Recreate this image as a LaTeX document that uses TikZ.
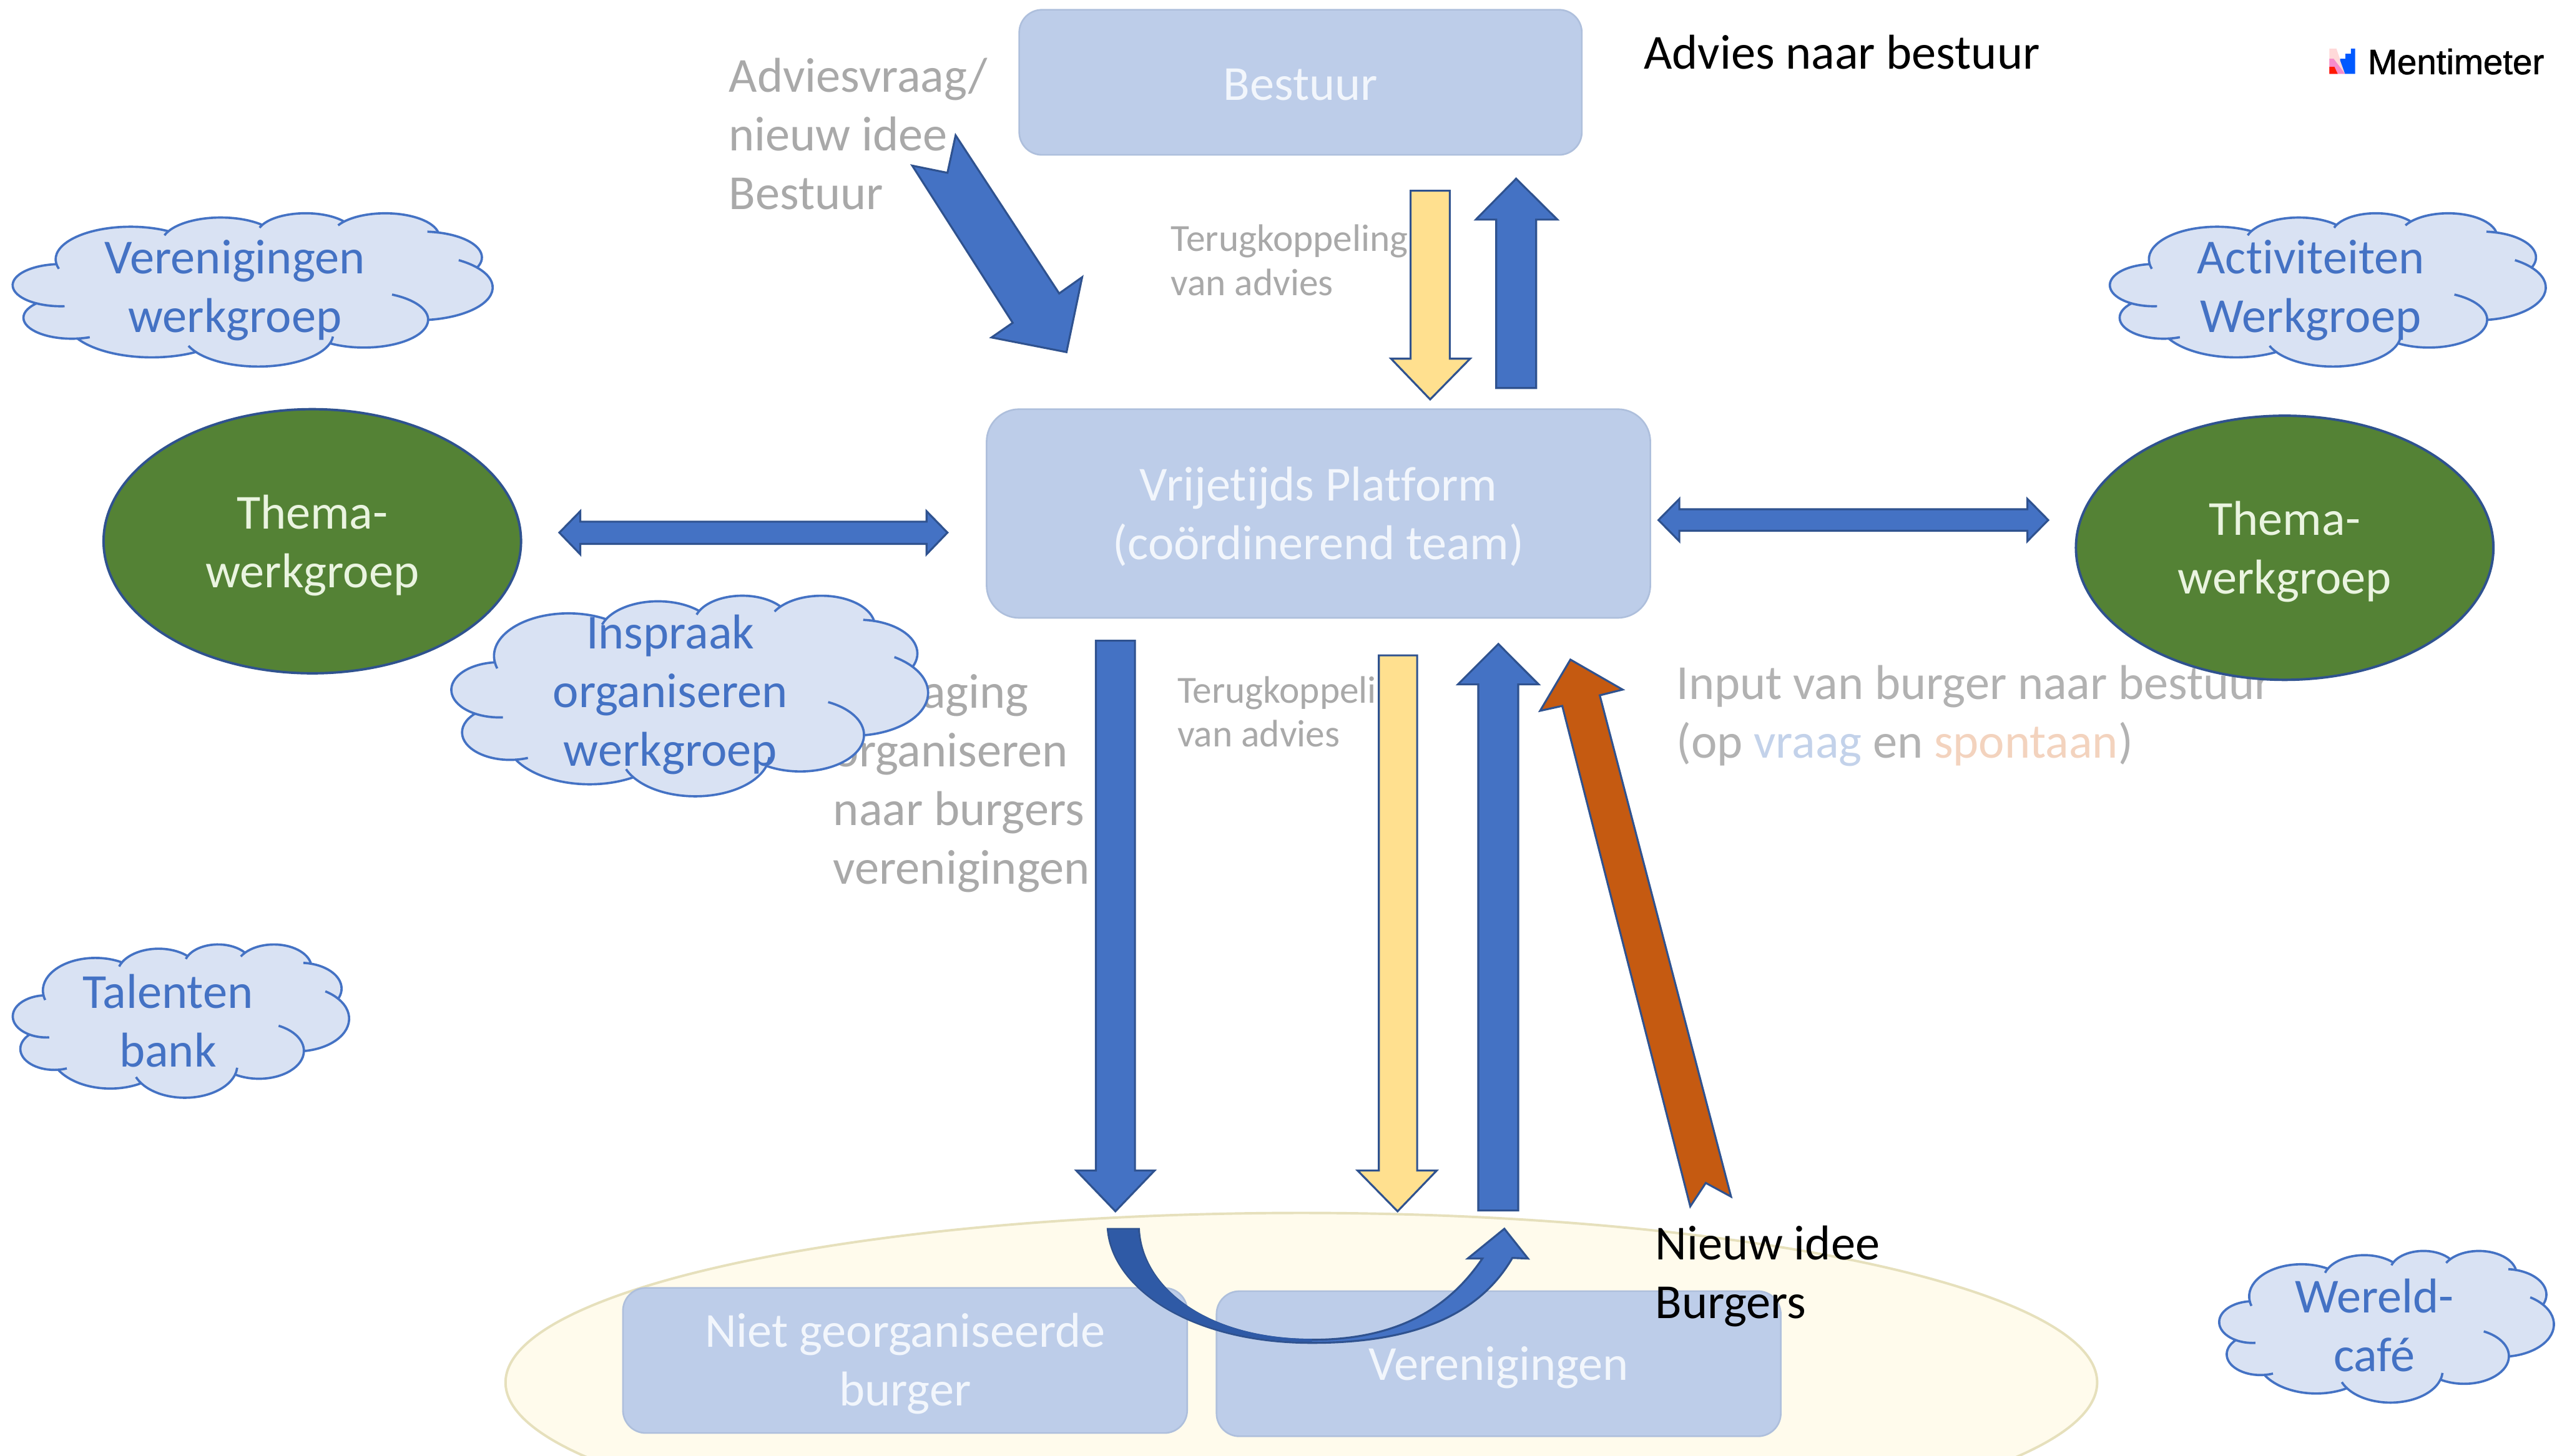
\documentclass[tikz,border=0pt]{standalone}
\usepackage{fontspec}
\setmainfont[Ligatures=NoCommon]{Carlito}
\newfontfamily\mentifont[FakeBold=1.2]{Liberation Sans}
\definecolor{boxfill}{HTML}{BDCDE9}
\definecolor{boxline}{HTML}{AEBFDC}
\definecolor{boxtext}{HTML}{F2F6FC}
\definecolor{bluefill}{HTML}{4472C4}
\definecolor{bluedark}{HTML}{2F5AA6}
\definecolor{blueline}{HTML}{2F528F}
\definecolor{yelfill}{HTML}{FFE08F}
\definecolor{orfill}{HTML}{C55A11}
\definecolor{cloudfill}{HTML}{D9E2F3}
\definecolor{greenfill}{HTML}{548235}
\definecolor{greentext}{HTML}{EAF4E0}
\definecolor{creamfill}{HTML}{FFFBEC}
\definecolor{creamline}{HTML}{E6E0BC}
\definecolor{greytext}{HTML}{A9A9A9}
\definecolor{inputgrey}{HTML}{B2B2B2}
\definecolor{vraagc}{HTML}{C3D2EA}
\definecolor{spontc}{HTML}{F3D3BE}
\tikzset{
  lefttext/.style={font=\fontsize{30}{36}\selectfont,align=left,inner sep=0,outer sep=0,anchor=west},
  smalltext/.style={font=\fontsize{23.5}{27}\selectfont,align=left,inner sep=0,outer sep=0,anchor=west,text=greytext},
  softbox/.style={draw=boxline,line width=1pt,fill=boxfill,rounded corners=14pt,inner sep=0,outer sep=0},
  boxlabel/.style={font=\fontsize{30}{36}\selectfont,align=center,inner sep=0,outer sep=0,text=boxtext},
  bluearrow/.style={draw=blueline,line width=1.2pt,fill=bluefill,line join=miter},
  yelarrow/.style={draw=blueline,line width=1.2pt,fill=yelfill,line join=miter},
  orarrow/.style={draw=blueline,line width=1.2pt,fill=orfill,line join=miter},
  theme/.style={ellipse,draw=blueline,line width=1.5pt,fill=greenfill,inner sep=0,outer sep=0,minimum width=256pt,minimum height=162pt},
  themelabel/.style={font=\fontsize{30}{36}\selectfont,align=center,inner sep=0,outer sep=0,text=greentext},
  cloudtext/.style={font=\fontsize{30}{36}\selectfont,align=center,inner sep=0,outer sep=0,text=bluefill},
  cloudedge/.style={draw=bluefill,line width=1.4pt,line join=round},
}
\usetikzlibrary{shapes.geometric}
\newcommand\carc[4]{%
  \pgfmathsetmacro\tA{atan2(#1*sin(#3),#2*cos(#3))}%
  \pgfmathsetmacro\tB{atan2(#1*sin(#3+#4),#2*cos(#3+#4))}%
  \pgfmathsetmacro\tB{\tB<\tA ? \tB+360 : \tB}%
}
\def\lobe#1#2#3#4{\pgfextra{\carc{#1}{#2}{#3}{#4}} arc[start angle=\tA,end angle=\tB,x radius=#1,y radius=#2]}
\newcommand\cback[5]{%
  \carc{#2}{#3}{#4-#5}{#5}%
  \draw[cloudedge] (#1) arc[start angle=\tB,end angle=\tA,x radius=#2,y radius=#3];%
}
\newcommand\cforw[5]{%
  \carc{#2}{#3}{#4}{#5}%
  \draw[cloudedge] (#1) arc[start angle=\tA,end angle=\tB,x radius=#2,y radius=#3];%
}
\newcommand\cloudshape[4]{%
  \pgfmathsetmacro\cux{#3/432}\pgfmathsetmacro\cuy{#4/432}%
  \begin{scope}[shift={(#1,#2)},x=\cux pt,y=-\cuy pt]
    \path[cloudedge,fill=cloudfill] (39,143.7) coordinate (s1)
      \lobe{67.53}{91.90}{-190.4875}{123.7805} coordinate (s2)
      \lobe{53.33}{72.67}{-144.1024}{89.9452} coordinate (s3)
      \lobe{43.65}{59.45}{-145.8079}{99.7230} coordinate (s4)
      \lobe{48.57}{65.95}{-130.9861}{117.2417} coordinate (s5)
      \lobe{53.33}{72.73}{-78.7089}{109.0269} coordinate (s6)
      \lobe{67.75}{92.20}{-46.2673}{130.2690} coordinate (s7)
      \lobe{57.85}{78.67}{0.6250}{114.0333} coordinate (s8)
      \lobe{67.52}{92.15}{22.4516}{115.1726} coordinate (e8)
      \lobe{77.20}{105.43}{66.2426}{75.7110} coordinate (s10)
      \lobe{43.60}{59.18}{-274.9421}{146.7356} coordinate (s11)
      \lobe{43.45}{59.45}{-246.8285}{152.5189} -- cycle;
    \cback{s11}{43.45}{59.45}{-246.8285}{26.43}
    \cback{s10}{43.60}{59.18}{-274.9421}{11.45}
    \cforw{e8}{67.52}{92.15}{137.6242}{14.08}
    \cback{s8}{67.52}{92.15}{22.4516}{16.00}
    \cback{s7}{57.85}{78.67}{0.6250}{70.92}
    \cback{s6}{67.75}{92.20}{-46.2673}{18}
    \cback{s5}{53.33}{72.73}{-78.7089}{8}
    \cback{s4}{48.57}{65.95}{-130.9861}{12}
    \cback{s3}{43.65}{59.45}{-145.8079}{10}
    \cback{s2}{53.33}{72.67}{-144.1024}{12}
    \cback{s1}{67.53}{91.90}{-190.4875}{12}
  \end{scope}%
}
\begin{document}
\begin{tikzpicture}[x=1pt,y=-1pt]
\useasboundingbox (0,0) rectangle (1568,893);
\fill[white] (0,0) rectangle (1568,893);
% base ellipse
\begin{scope}
  \clip (0,0) rectangle (1568,893);
  \draw[creamline,line width=1.5pt,fill=creamfill] (798,848) ellipse [x radius=488,y radius=104];
\end{scope}
% boxes
\node[softbox,minimum width=345pt,minimum height=89pt] (bestuur) at (797.5,50.5) {};
\node[boxlabel] (bestuurT) at (797.5,52) {Bestuur};
\node[softbox,rounded corners=20pt,minimum width=407pt,minimum height=128pt] (platform) at (808.5,315) {};
\node[boxlabel] (platformT) at (808.5,317) {Vrijetijds Platform\\(coördinerend team)};
\node[softbox,minimum width=346pt,minimum height=89pt] (burger) at (555,834.5) {};
\node[boxlabel] (burgerT) at (555,836.5) {Niet georganiseerde\\burger};
\node[softbox,minimum width=346pt,minimum height=89pt] (verenig) at (919,836.5) {};
\node[boxlabel] (verenigT) at (919,839) {Verenigingen};
% grey texts below arrows and clouds
\node[lefttext,text=greytext] (vraag) at (447,82) {Adviesvraag/\\nieuw idee\\Bestuur};
\node[smalltext] (terug1) at (718,159.5) {Terugkoppeling\\van advies};
\node[smalltext] (terug2) at (722,436.5) {Terugkoppeling\\van advies};
\node[lefttext,text=greytext] (bevraging) at (511,480.5) {Bevraging\\organiseren\\naar burgers\\verenigingen};
\node[lefttext,text=inputgrey] (input) at (1028,439) {Input van burger naar bestuur\\(op {\color{vraagc}vraag} en {\color{spontc}spontaan})};
% theme ellipses
\node[theme] (themaL) at (191.5,332) {};
\node[themelabel] (themaLT) at (191.5,334.5) {Thema-\\werkgroep};
\node[theme] (themaR) at (1401,336) {};
\node[themelabel] (themaRT) at (1401,338.5) {Thema-\\werkgroep};
% block arrows
\draw[bluearrow] (586,83) -- (581,106) -- (559.4,101.6) -- (621,198) -- (608,207) -- (654,216) -- (663.6,170) -- (649.5,180) -- cycle;
\draw[yelarrow] (865,117) -- (889,117) -- (889,220) -- (901.5,220) -- (877,245) -- (853,220) -- (865,220) -- cycle;
\draw[bluearrow] (917.5,238) -- (917.5,134.7) -- (905,134.7) -- (929.7,109.6) -- (955,134.7) -- (942,134.7) -- (942,238) -- cycle;
\draw[bluearrow] (343,326.7) -- (355.8,313.6) -- (355.8,320) -- (568.2,320) -- (568.2,313.6) -- (581,326.7) -- (568.2,340) -- (568.2,333.6) -- (355.8,333.6) -- (355.8,340) -- cycle;
\draw[bluearrow] (1017,319) -- (1029.8,306) -- (1029.8,312.4) -- (1243.2,312.4) -- (1243.2,306) -- (1256,319) -- (1243.2,332) -- (1243.2,325.6) -- (1029.8,325.6) -- (1029.8,332) -- cycle;
\draw[bluearrow] (672,393) -- (696,393) -- (696,718) -- (708,718) -- (684,743) -- (660,718) -- (672,718) -- cycle;
\draw[yelarrow] (845.5,402) -- (869,402) -- (869,718) -- (881,718) -- (857,743) -- (832.5,718) -- (845.5,718) -- cycle;
\draw[bluearrow] (906.5,742.5) -- (906.5,419.8) -- (894,419.8) -- (918.8,395) -- (943.5,419.8) -- (931,419.8) -- (931,742.5) -- cycle;
\draw[orarrow] (963,404.6) -- (995,423) -- (981,426.5) -- (1061.5,734) -- (1046,725.6) -- (1036.5,740) -- (958,433) -- (944.4,436) -- cycle;
% curved arrow
\draw[bluearrow] (679.3,753.8) .. controls (682,790) and (730,823.7) .. (804.5,823.7)
  .. controls (870,823.7) and (908,805) .. (927.4,771.6)
  -- (937,772) -- (922.5,753.7) -- (900,772) -- (909,772)
  .. controls (890,800) and (860,821.8) .. (804.5,821.8)
  .. controls (740,821.8) and (700,790) .. (698.4,753.8) -- cycle;
\fill[bluedark] (679.9,754.4) .. controls (682.6,790) and (730,823.1) .. (804.5,823.1)
  -- (804.5,821.2) .. controls (740,821.2) and (700.6,790) .. (697.8,754.4) -- cycle;
% clouds
\cloudshape{8}{130.5}{294}{94}
\node[cloudtext] (c1) at (144,178) {Verenigingen\\werkgroep};
\cloudshape{1294}{130.5}{267}{94}
\node[cloudtext] (c2) at (1417,178) {Activiteiten\\Werkgroep};
\cloudshape{277}{365}{292}{123}
\node[cloudtext] (c3) at (411,426) {Inspraak\\organiseren\\werkgroep};
\cloudshape{8}{579}{206}{94}
\node[cloudtext] (c4) at (103,626) {Talenten\\bank};
\cloudshape{1361}{767}{205}{93}
\node[cloudtext] (c5) at (1456,813) {Wereld-\\café};
% black texts
\node[lefttext] (advies) at (1008,32) {Advies naar bestuur};
\node[lefttext] (nieuw) at (1015,783) {Nieuw idee\\Burgers};
% logo
\fill[pink!60!white] (1428.4,29.8) -- (1432.7,29.8) -- (1438,45.3) -- (1428.4,45.3) -- cycle;
\fill[magenta!45!white] (1428.4,36) -- (1431,36) -- (1438,45.3) -- (1428.4,45.3) -- cycle;
\fill[red!80!orange] (1428.4,41) -- (1431.5,41) -- (1433.5,45.3) -- (1428.4,45.3) -- cycle;
\fill[blue!65!cyan] (1435,36) -- (1438.3,36) -- (1438.3,33) -- (1441.6,33) -- (1441.6,29.8) -- (1444.2,29.8) -- (1444.2,45.3) -- (1438,45.3) -- (1435,37) -- cycle;
\node[inner sep=0,outer sep=0,anchor=base west,font=\mentifont\fontsize{21.6}{26}\selectfont] (menti) at (1452,45.5) {Mentimeter};
\end{tikzpicture}
\end{document}
